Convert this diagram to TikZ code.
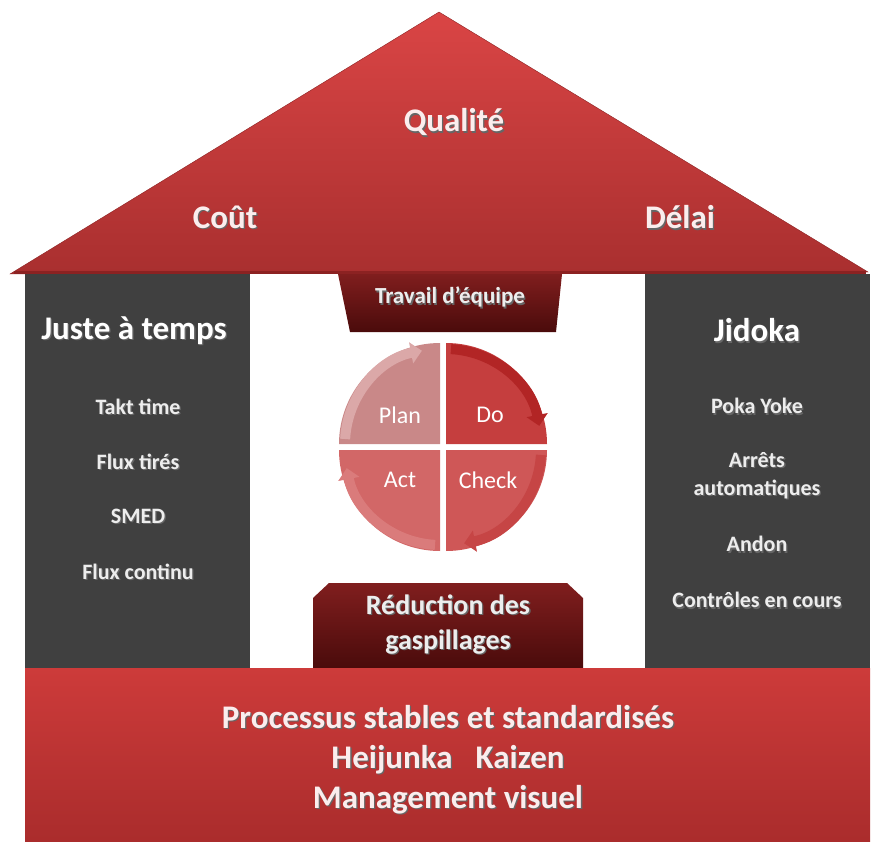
\documentclass[tikz,border=0pt]{standalone}
\usepackage{fontspec}
\setmainfont{Carlito}
\usetikzlibrary{arrows.meta}

\definecolor{roofTop}{HTML}{DA4545}
\definecolor{roofBot}{HTML}{A92F2F}
\definecolor{roofEdge}{HTML}{8C2222}
\definecolor{pillar}{HTML}{404040}
\definecolor{baseTop}{HTML}{CD3B3A}
\definecolor{baseBot}{HTML}{AA2C2C}
\definecolor{boxTop}{HTML}{801E1E}
\definecolor{boxBot}{HTML}{4A0B0B}
\definecolor{planBody}{HTML}{C98888}
\definecolor{planRim}{HTML}{DBA8A8}
\definecolor{doBody}{HTML}{C53E3E}
\definecolor{doRim}{HTML}{B22525}
\definecolor{checkBody}{HTML}{CF5757}
\definecolor{checkRim}{HTML}{C64545}
\definecolor{actBody}{HTML}{D26767}
\definecolor{actRim}{HTML}{DA7B7B}
\definecolor{pale}{HTML}{FBEDED}

\newcommand\shadowed[1]{\makebox[0pt][l]{\hspace{1.3pt}\raisebox{-1.3pt}{\textcolor{black!60}{#1}}}#1}

\tikzset{
  title/.style={text=pale, font=\bfseries\fontsize{33}{40}\selectfont, align=center},
  pillartitle/.style={title, text=white},
  item/.style={text=white!93!black, font=\bfseries\fontsize{22}{28}\selectfont, align=center},
  quarter/.style={text=white, font=\fontsize{24}{28}\selectfont},
  arrowrim/.style={line width=10pt, -{Triangle[length=11pt,width=21pt]}},
}

\begin{document}
\begin{tikzpicture}[x=1pt,y=-1pt]
  \useasboundingbox (0,0) rectangle (872,842);

  % roof
  \shade[top color=roofTop, bottom color=roofBot, draw=roofEdge]
    (10,274) -- (439,12) -- (868,272) -- cycle;
  \draw[roofEdge, line width=3pt] (14,272) -- (866,272);
  \node[title] (qualite) at (454,123) {\shadowed{Qualité}};
  \node[title] (cout) at (225,218) {\shadowed{Coût}};
  \node[title] (delai) at (680,218) {\shadowed{Délai}};

  % pillars
  \fill[pillar] (25,274) rectangle (250,668);
  \fill[pillar] (645,274) rectangle (870,668);
  \node[pillartitle] (jat) at (134,331) {\shadowed{Juste à temps}};
  \node[pillartitle] (jidoka) at (757,331) {\shadowed{Jidoka}};
  \foreach \t [count=\i] in {Takt time, Flux tirés, SMED, Flux continu}
    \node[item] (left\i) at (138,352+55*\i) {\shadowed{\t}};
  \foreach \t/\y [count=\i] in {Poka Yoke/407, Andon/545, Contrôles en cours/601}
    \node[item] (right\i) at (757,\y) {\shadowed{\t}};
  \node[item] (arrets) at (757,476) {\shadowed{Arrêts}\\\shadowed{automatiques}};

  % team work banner
  \shade[top color=boxTop, bottom color=boxBot]
    (338,274) -- (562,274) -- (556,332) -- (350,332) -- cycle;
  \node[item, font=\bfseries\fontsize{23}{28}\selectfont] (travail) at (450,298)
    {\shadowed{Travail d’équipe}};

  % PDCA wheel
  \coordinate (pdca) at (443,447);
  \foreach \a/\dx/\dy/\c in {180/-3/-3/plan, 270/3/-3/do, 0/3/3/check, 90/-3/3/act}
  {
    \fill[\c Body] ([shift={(\dx,\dy)}]pdca) -- ++(\a:101)
      arc[start angle=\a, end angle=\a+90, radius=101] -- cycle;
    \draw[arrowrim, \c Rim] ([shift={(\dx,\dy)}]pdca) ++(\a+3:95)
      arc[start angle=\a+3, end angle=\a+79, radius=95];
  }
  \node[quarter] (plan) at (400,415) {Plan};
  \node[quarter] (do) at (490,415) {Do};
  \node[quarter] (act) at (400,480) {Act};
  \node[quarter] (check) at (488,480) {Check};

  % waste reduction banner
  \shade[top color=boxTop, bottom color=boxBot]
    (313,668) -- (313,598) -- (329,583) -- (567,583) -- (583,598) -- (583,668) -- cycle;
  \node[item, font=\bfseries\fontsize{28}{35}\selectfont] (reduction) at (448,625)
    {\shadowed{Réduction des}\\\shadowed{gaspillages}};

  % foundation
  \shade[top color=baseTop, bottom color=baseBot] (25,668) rectangle (870,842);
  \node[title] (base) at (448,760)
    {\shadowed{Processus stables et standardisés}\\
     \shadowed{Heijunka\hspace{0.7em}Kaizen}\\
     \shadowed{Management visuel}};
\end{tikzpicture}
\end{document}
